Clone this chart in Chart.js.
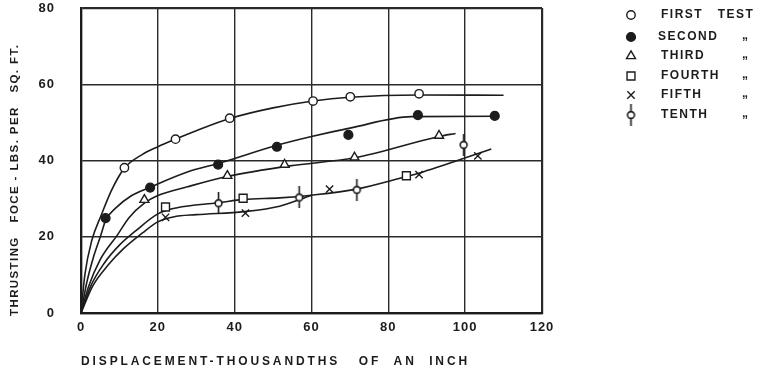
<!DOCTYPE html>
<html>
<head>
<meta charset="utf-8">
<script src="https://cdn.jsdelivr.net/npm/chart.js@4.4.1/dist/chart.umd.min.js"></script>
<style>
  html, body { margin: 0; padding: 0; background: #fff; }
  #wrap { width: 767px; height: 373px; }
</style>
</head>
<body>
<div id="wrap"><canvas id="thrust" width="767" height="373"></canvas></div>
<script>
// measured points, [displacement, force]
var firstTest  = [[11.3, 38.1], [24.6, 45.6], [38.7, 51.1], [60.4, 55.6], [70.1, 56.7], [88, 57.5]];
var secondTest = [[6.4, 24.9], [18, 32.9], [35.7, 38.9], [51, 43.6], [69.6, 46.7], [87.7, 51.9], [107.7, 51.7]];
var thirdTest  = [[16.5, 29.7], [38.1, 36], [53, 38.9], [71.2, 40.8], [93.2, 46.5]];
var fourthTest = [[22, 27.8], [42.2, 30.1], [84.7, 36]];
var fifthTest  = [[22, 25.1], [42.8, 26.2], [64.7, 32.5], [88, 36.3], [103.3, 41.2]];
var tenthTest  = [[35.8, 28.8], [56.8, 30.3], [71.8, 32.3], [99.6, 44.1]];

// faired curves drawn through the tests
var firstCurve  = [[0, 0], [1, 10], [2.8, 19], [5.2, 25.5], [8, 32.3], [11.3, 38], [16, 41.6], [20, 43.6], [24.6, 45.6], [30, 47.8], [38.7, 51], [50, 53.8], [60.4, 55.6], [70, 56.6], [88, 57.2], [110, 57.1]];
var secondCurve = [[0, 0], [1.5, 8], [3.2, 14.5], [5.2, 20.5], [6.4, 24.3], [9, 27.5], [13, 30.7], [18, 33], [27.7, 37], [35.7, 39.2], [51, 44], [60, 46.3], [70, 48.5], [86, 51.5], [108, 51.6]];
var thirdCurve  = [[0, 0], [2, 7], [5, 14], [9.5, 20.5], [12.5, 25], [16.5, 28.8], [20, 30.8], [27.7, 33.1], [38, 35.8], [54.3, 38.6], [71.2, 40.7], [93.2, 46.3], [97.5, 47.1]];
var fourthCurve = [[0, 0], [2.5, 7], [6, 13], [10, 17.8], [14.3, 21.6], [20, 26], [25, 27.6], [35.7, 28.9], [42.3, 29.8], [51.7, 30.2], [60, 30.9], [71.8, 32.5], [84, 35.6], [89, 37], [106.8, 43]];
var fifthCurve  = [[0, 0], [3, 7], [7, 12.5], [11, 16.8], [16, 21], [20, 23.9], [24, 25.2], [30, 25.8], [42.5, 26.6], [51.7, 28], [60, 30.9]];

var xTicks = [0, 20, 40, 60, 80, 100, 120];
var yTicks = [0, 20, 40, 60, 80];
var legendNames = ['FIRST   TEST', 'SECOND', 'THIRD', 'FOURTH', 'FIFTH', 'TENTH'];
var xTitle = 'DISPLACEMENT-THOUSANDTHS   OF  AN  INCH';
var yTitle = 'THRUSTING   FOCE - LBS. PER   SQ. FT.';

var INK = '#1c1c1c';
var FONT = '"Liberation Sans", Arial, sans-serif';

function pts(arr) {
  return arr.map(function (p) { return { x: p[0], y: p[1] }; });
}

// circle with a vertical stroke through it (tenth test)
function tenthSymbol() {
  var c = document.createElement('canvas');
  c.width = 11; c.height = 22;
  var g = c.getContext('2d');
  g.strokeStyle = INK;
  g.lineWidth = 1.6;
  g.beginPath();
  g.moveTo(5.5, 0); g.lineTo(5.5, 7.5);
  g.moveTo(5.5, 14.5); g.lineTo(5.5, 22);
  g.stroke();
  g.fillStyle = '#fff';
  g.beginPath();
  g.arc(5.5, 11, 3.4, 0, Math.PI * 2);
  g.fill();
  g.stroke();
  return c;
}
var tenthStyle = tenthSymbol();

function curve(data) {
  return {
    data: pts(data),
    showLine: true,
    borderColor: INK,
    borderWidth: 1.6,
    pointRadius: 0,
    cubicInterpolationMode: 'monotone',
    fill: false,
    order: 2
  };
}

function marks(data, style, radius, filled) {
  return {
    data: pts(data),
    showLine: false,
    pointStyle: style,
    pointRadius: radius,
    pointBorderWidth: 1.4,
    pointBorderColor: INK,
    pointBackgroundColor: filled ? INK : '#fff',
    order: 1
  };
}

var markSets = [
  marks(firstTest, 'circle', 4.2, false),
  marks(secondTest, 'circle', 4.4, true),
  marks(thirdTest, 'triangle', 5.2, false),
  marks(fourthTest, 'rect', 5.6, false),
  marks(fifthTest, 'crossRot', 5.2, false),
  marks(tenthTest, tenthStyle, 5, false)
];

// spread a string out so it fills a given length
function spacedText(ctx, text, x, y, span) {
  ctx.letterSpacing = '0px';
  var base = ctx.measureText(text).width;
  var gap = Math.max(0, (span - base) / (text.length - 1));
  ctx.letterSpacing = gap.toFixed(2) + 'px';
  ctx.fillText(text, x, y);
}

// lettered legend and axis titles
var lettering = {
  id: 'lettering',
  beforeDraw: function (chart) {
    chart.ctx.letterSpacing = '1px';
  },
  afterDraw: function (chart) {
    var ctx = chart.ctx;
    var area = chart.chartArea;
    var rows = [15, 37, 56, 76, 95, 115];
    ctx.save();
    ctx.fillStyle = INK;
    ctx.textBaseline = 'middle';
    ctx.textAlign = 'left';

    ctx.font = 'bold 12px ' + FONT;
    spacedText(ctx, xTitle, area.left, 362, 386);

    ctx.save();
    ctx.translate(15, area.bottom + 3);
    ctx.rotate(-Math.PI / 2);
    ctx.font = 'bold 11.5px ' + FONT;
    spacedText(ctx, yTitle, 0, 0, 271);
    ctx.restore();

    ctx.letterSpacing = '1.5px';
    ctx.font = 'bold 12px ' + FONT;
    markSets.forEach(function (ds, i) {
      var opts = {
        pointStyle: ds.pointStyle,
        radius: ds.pointRadius,
        borderWidth: ds.pointBorderWidth,
        rotation: 0
      };
      ctx.strokeStyle = INK;
      ctx.fillStyle = ds.pointBackgroundColor;
      ctx.lineWidth = ds.pointBorderWidth;
      Chart.helpers.drawPoint(ctx, opts, 631, rows[i]);
      ctx.fillStyle = INK;
      ctx.fillText(legendNames[i], i === 1 ? 658 : 661, rows[i]);
      if (i > 0) ctx.fillText('\u201E', 742, rows[i] - 1);
    });
    ctx.restore();
  }
};

function edgeWidth(limit) {
  return function (c) { return c.tick && (c.tick.value === limit || c.tick.value === 0) ? 2.2 : 1.4; };
}

new Chart(document.getElementById('thrust'), {
  type: 'scatter',
  data: {
    datasets: [
      curve(firstCurve), curve(secondCurve), curve(thirdCurve), curve(fourthCurve), curve(fifthCurve)
    ].concat(markSets)
  },
  options: {
    responsive: false,
    animation: false,
    layout: { padding: { top: 8, right: 225, left: 0, bottom: 0 } },
    plugins: { legend: { display: false }, tooltip: { enabled: false } },
    scales: {
      x: {
        type: 'linear', min: 0, max: 120,
        afterBuildTicks: function (s) { s.ticks = xTicks.map(function (v) { return { value: v }; }); },
        afterFit: function (s) { s.height = 60; s.paddingLeft = 0; s.paddingRight = 0; },
        ticks: { color: INK, padding: 7, font: { family: FONT, size: 13, weight: 'bold' } },
        grid: { color: '#2a2a2a', lineWidth: edgeWidth(120), drawTicks: false },
        border: { color: INK, width: 2.2 }
      },
      y: {
        type: 'linear', min: 0, max: 80,
        afterBuildTicks: function (s) { s.ticks = yTicks.map(function (v) { return { value: v }; }); },
        afterFit: function (s) { s.width = 81; s.paddingTop = 0; s.paddingBottom = 0; },
        ticks: { color: INK, padding: 26, font: { family: FONT, size: 13, weight: 'bold' } },
        grid: { color: '#2a2a2a', lineWidth: edgeWidth(80), drawTicks: false },
        border: { color: INK, width: 2.2 }
      }
    }
  },
  plugins: [lettering]
});
</script>
</body>
</html>
